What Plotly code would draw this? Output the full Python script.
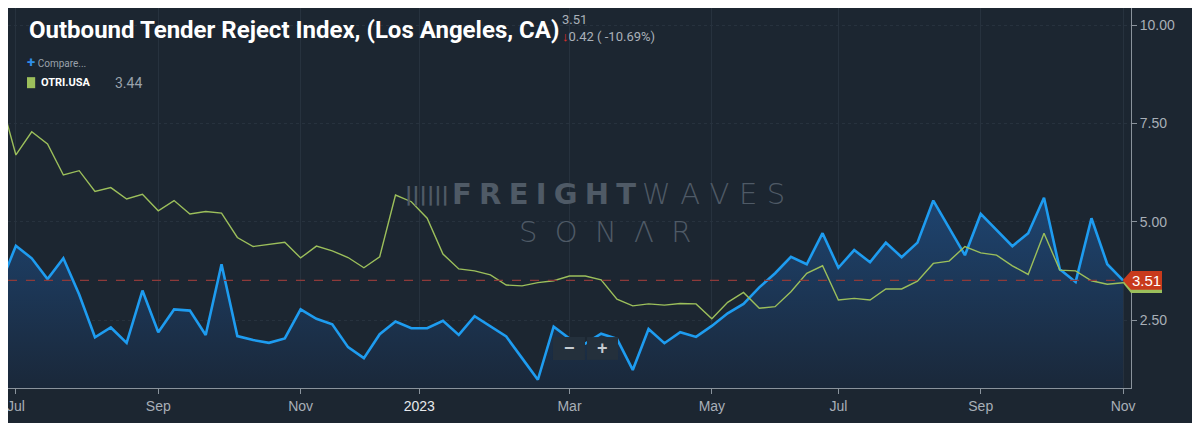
"""Outbound Tender Reject Index, Los Angeles vs USA (SONAR style chart)."""

import plotly.graph_objects as go

# weekly points, index 0 = first week of Jul 2022; index -1 sits just outside the view
WEEK_IDX = list(range(-1, 71))

LA_OTRI = [
    3.39, 4.39, 4.07, 3.54, 4.07, 3.15, 2.06, 2.31, 1.92, 3.25,
    2.19, 2.77, 2.74, 2.12, 3.92, 2.09, 1.99, 1.92, 2.03, 2.77,
    2.53, 2.39, 1.81, 1.53, 2.14, 2.46, 2.29, 2.29, 2.48, 2.12,
    2.60, 2.33, 2.08, 1.53, 0.98, 2.33, 2.03, 1.90, 2.15, 2.02,
    1.23, 2.27, 1.91, 2.19, 2.07, 2.35, 2.67, 2.91, 3.33, 3.69,
    4.11, 3.92, 4.71, 3.83, 4.28, 3.97, 4.47, 4.10, 4.47, 5.54,
    4.85, 4.15, 5.20, 4.79, 4.38, 4.71, 5.61, 3.79, 3.47, 5.09,
    3.92, 3.51,
]

USA_OTRI = [
    8.17, 6.70, 7.29, 6.98, 6.19, 6.30, 5.77, 5.87, 5.58, 5.70,
    5.28, 5.54, 5.20, 5.26, 5.22, 4.60, 4.37, 4.43, 4.48, 4.08,
    4.38, 4.26, 4.09, 3.83, 4.11, 5.68, 5.51, 5.09, 4.18, 3.80,
    3.75, 3.65, 3.39, 3.37, 3.45, 3.50, 3.62, 3.62, 3.52, 3.03,
    2.86, 2.91, 2.88, 2.92, 2.91, 2.53, 2.95, 3.20, 2.80, 2.84,
    3.22, 3.69, 3.88, 3.01, 3.05, 3.01, 3.29, 3.29, 3.49, 3.94,
    4.00, 4.37, 4.21, 4.15, 3.88, 3.66, 4.71, 3.77, 3.75, 3.50,
    3.41, 3.45,
]

X_TICK_POS = [0, 9, 18, 25.5, 35, 44, 52, 61, 70]
X_TICK_LABELS = ["Jul", "Sep", "Nov", "2023", "Mar", "May", "Jul", "Sep", "Nov"]
Y_TICKS = [2.5, 5.0, 7.5, 10.0]

LAST_LA = LA_OTRI[-1]
CHANGE = 0.42
CHANGE_PCT = -10.69
LAST_USA = 3.44

BG = "#1c2631"
GRID = "#27323e"
AXIS = "#8a939c"
TICK_FONT = dict(family="Arial, Liberation Sans", size=14, color="#a8afb7")
BLUE = "#1e9cf0"
GREEN = "#9cbf5b"
BUTTON = "#24303c"
MARK = "#4f5a66"

fig = go.Figure()

fig.add_trace(
    go.Scatter(
        x=WEEK_IDX,
        y=LA_OTRI,
        mode="lines",
        line=dict(color=BLUE, width=2.6),
        fill="tozeroy",
        fillgradient=dict(
            type="vertical",
            start=0.8,
            stop=5.6,
            colorscale=[[0, "rgba(26,40,58,1)"], [1, "rgba(30,68,112,1)"]],
        ),
        name="Los Angeles",
        showlegend=False,
    )
)
fig.add_trace(
    go.Scatter(
        x=WEEK_IDX,
        y=USA_OTRI,
        mode="lines",
        line=dict(color=GREEN, width=1.4),
        name="OTRI.USA",
        showlegend=False,
    )
)

# dashed line at the last LA value
fig.add_shape(
    type="line", xref="paper", yref="y", x0=0, x1=1, y0=LAST_LA, y1=LAST_LA,
    line=dict(color="#8e3a3a", width=1.2, dash="dash"), layer="above",
)

# last value tags on the right axis (green one peeks out below the red one)
fig.add_shape(
    type="path", xref="paper", yref="y",
    path=f"M 0.9926 {LAST_LA - 0.06} L 1.0 {LAST_LA + 0.2} L 1.0276 {LAST_LA + 0.2} "
    f"L 1.0276 {LAST_LA - 0.32} L 1.0 {LAST_LA - 0.32} Z",
    fillcolor=GREEN, line_width=0, layer="above",
)
fig.add_shape(
    type="path", xref="paper", yref="y",
    path=f"M 0.9926 {LAST_LA} L 1.0 {LAST_LA + 0.24} L 1.0276 {LAST_LA + 0.24} "
    f"L 1.0276 {LAST_LA - 0.24} L 1.0 {LAST_LA - 0.24} Z",
    fillcolor="#c83a1c", line_width=0, layer="above",
)

# legend swatch
fig.add_shape(
    type="rect", xref="paper", yref="paper", x0=0.0169, x1=0.0242, y0=0.789, y1=0.818,
    fillcolor=GREEN, line_width=0,
)

# zoom buttons
fig.add_shape(
    type="rect", xref="paper", yref="paper", x0=0.4853, x1=0.5138, y0=0.074, y1=0.134,
    fillcolor=BUTTON, line_width=0, layer="above",
)
fig.add_shape(
    type="rect", xref="paper", yref="paper", x0=0.5156, x1=0.5432, y0=0.074, y1=0.134,
    fillcolor=BUTTON, line_width=0, layer="above",
)

annotations = [
    dict(
        x=1.0138, y=LAST_LA, xref="paper", yref="y", text=f"{LAST_LA:.2f}",
        showarrow=False, xanchor="center", yanchor="middle",
        font=dict(family="Arial, Liberation Sans", size=15, color="white"),
    ),
    # title block
    dict(
        x=0.0165, y=0.942, xref="paper", yref="paper",
        text="<b>Outbound Tender Reject Index, (Los Angeles, CA)</b>",
        showarrow=False, xanchor="left", yanchor="middle",
        font=dict(family="Roboto", size=24, color="white"),
    ),
    dict(
        x=0.4915, y=0.971, xref="paper", yref="paper", text=f"{LAST_LA:.2f}",
        showarrow=False, xanchor="left", yanchor="middle",
        font=dict(family="Roboto", size=13, color="#aab1b9"),
    ),
    dict(
        x=0.4915, y=0.924, xref="paper", yref="paper",
        text=f"<span style='color:#e0302a'><b>↓</b></span>{CHANGE:.2f} ( {CHANGE_PCT:.2f}%)",
        showarrow=False, xanchor="left", yanchor="middle",
        font=dict(family="Roboto", size=13, color="#aab1b9"),
    ),
    dict(
        x=0.0155, y=0.858, xref="paper", yref="paper",
        text="<span style='color:#2f8fe8;font-size:15px'><b>+</b></span> Compare...",
        showarrow=False, xanchor="left", yanchor="middle",
        font=dict(family="Roboto", size=10, color="#9aa2ab"),
    ),
    dict(
        x=0.0278, y=0.803, xref="paper", yref="paper", text="<b>OTRI.USA</b>",
        showarrow=False, xanchor="left", yanchor="middle",
        font=dict(family="Roboto", size=11, color="white"),
    ),
    dict(
        x=0.0935, y=0.803, xref="paper", yref="paper", text=f"{LAST_USA:.2f}",
        showarrow=False, xanchor="left", yanchor="middle",
        font=dict(family="Roboto", size=14, color="#9aa2ab"),
    ),
    # watermark
    dict(
        x=0.373, y=0.5105, xref="paper", yref="paper", text="<b>||||||</b>",
        showarrow=False, xanchor="center", yanchor="middle",
        font=dict(family="DejaVu Sans", size=20, color=MARK),
    ),
    dict(
        x=0.544, y=0.5105, xref="paper", yref="paper",
        text="<b>F\u2005R\u2005E\u2005I\u2005G\u2005H\u2005T</b>\u2009W\u2004A\u2004V\u2004E\u2004S",
        showarrow=False, xanchor="center", yanchor="middle",
        font=dict(family="DejaVu Sans", size=29, color=MARK, weight=200),
    ),
    dict(
        x=0.5316, y=0.4105, xref="paper", yref="paper",
        text="S\u2002\u200aO\u2002\u200aN\u2002\u200aΛ\u2002\u200aR",
        showarrow=False, xanchor="center", yanchor="middle",
        font=dict(family="DejaVu Sans", size=29, color=MARK, weight=200),
    ),
    dict(
        x=0.4996, y=0.104, xref="paper", yref="paper", text="<b>−</b>",
        showarrow=False, xanchor="center", yanchor="middle",
        font=dict(family="Arial", size=18, color="#c5cbd1"),
    ),
    dict(
        x=0.5298, y=0.104, xref="paper", yref="paper", text="<b>+</b>",
        showarrow=False, xanchor="center", yanchor="middle",
        font=dict(family="Arial", size=18, color="#c5cbd1"),
    ),
]

fig.update_layout(
    width=1200,
    height=423,
    # the page body adds an 8px offset, so the plot starts flush at the figure edge
    margin=dict(l=0, r=77, t=0, b=43),
    paper_bgcolor=BG,
    plot_bgcolor=BG,
    showlegend=False,
    annotations=annotations,
    xaxis=dict(
        range=[-0.5, 70.5],
        tickvals=X_TICK_POS,
        ticktext=[
            f"<span style='color:#e6e9ec'>{t}</span>" if t.isdigit() else t
            for t in X_TICK_LABELS
        ],
        tickfont=TICK_FONT,
        ticklabeloverflow="allow",
        ticks="outside",
        ticklen=5,
        tickcolor=AXIS,
        showline=True,
        linecolor=AXIS,
        linewidth=1,
        showgrid=True,
        gridcolor=GRID,
        gridwidth=1,
        zeroline=False,
        fixedrange=True,
    ),
    yaxis=dict(
        range=[0.77, 10.44],
        side="right",
        tickvals=Y_TICKS,
        tickformat=".2f",
        tickfont=TICK_FONT,
        ticks="outside",
        ticklen=5,
        tickcolor=AXIS,
        showline=True,
        linecolor=AXIS,
        linewidth=1,
        showgrid=True,
        gridcolor=GRID,
        griddash="dot",
        zeroline=False,
    ),
)

fig.write_html("out.html")
